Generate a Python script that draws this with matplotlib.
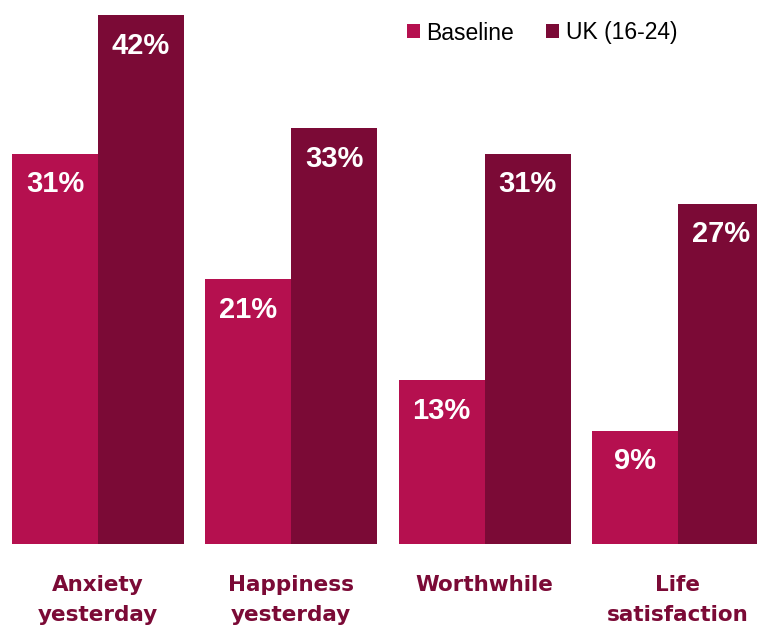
import numpy as np
import matplotlib
matplotlib.use("Agg")
import matplotlib.pyplot as plt

categories = ["Anxiety\nyesterday", "Happiness\nyesterday", "Worthwhile", "Life\nsatisfaction"]
baseline = [31, 21, 13, 9]
uk_16_24 = [42, 33, 31, 27]
series_names = ["Baseline", "UK (16-24)"]

BASE_COLOR = "#B5104F"
UK_COLOR = "#7B0A36"

fig = plt.figure(figsize=(7.57, 6.28), dpi=100)
ax = fig.add_axes([0, 1 - 544 / 628, 1, 544 / 628])

x = np.arange(len(categories))
w = 0.445
b1 = ax.bar(x - w / 2, baseline, w, color=BASE_COLOR, label=series_names[0])
b2 = ax.bar(x + w / 2, uk_16_24, w, color=UK_COLOR, label=series_names[1])

# value labels inside the top of each bar
for bars, vals in ((b1, baseline), (b2, uk_16_24)):
    for rect, v in zip(bars, vals):
        ax.annotate(f"{v}%", (rect.get_x() + rect.get_width() / 2, v),
                    xytext=(0, -22), textcoords="offset points",
                    ha="center", va="center", color="white",
                    fontsize=21, fontweight="bold", family="Liberation Sans")

ax.set_xlim(-0.507, 3.409)
ax.set_ylim(0, 43.19)
ax.set_yticks([])
ax.set_xticks(x)
ax.set_xticklabels(categories, fontsize=15.5, fontweight="bold", color=UK_COLOR,
                   family="DejaVu Sans", linespacing=1.65)
ax.tick_params(axis="x", length=0, pad=22)
for s in ax.spines.values():
    s.set_visible(False)

ax.legend(loc="center left", bbox_to_anchor=(407 / 757, 1 - 33 / 628),
          bbox_transform=fig.transFigure, ncol=2, frameon=False,
          prop={"family": "Liberation Sans", "size": 16.5},
          handlelength=0.55, handleheight=0.55, handletextpad=0.3,
          columnspacing=1.4, borderaxespad=0, borderpad=0)

fig.savefig("out.png", dpi=100)
